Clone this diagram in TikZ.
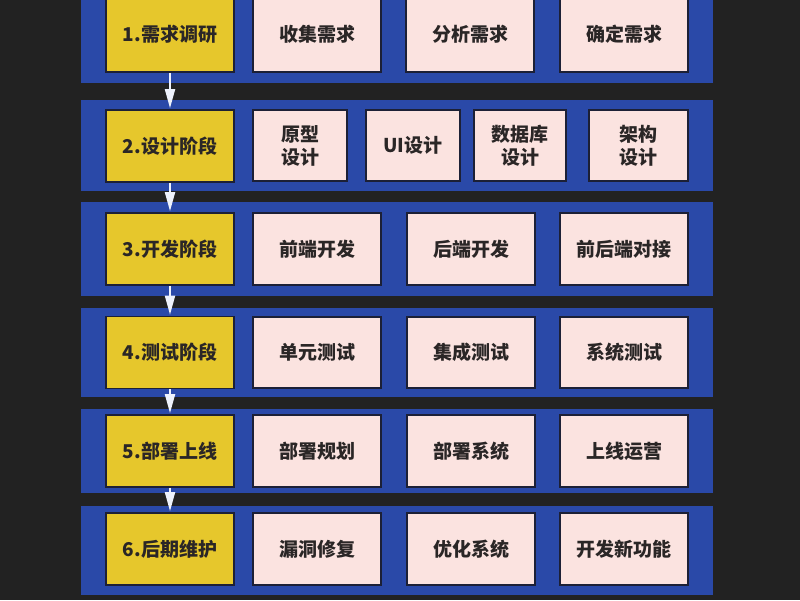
\documentclass[tikz,border=0pt]{standalone}
\usepackage{fontspec}
\setmainfont{Noto Sans CJK SC}
\usetikzlibrary{arrows.meta}
\definecolor{bgc}{HTML}{222222}
\definecolor{bandc}{HTML}{2A49A8}
\definecolor{yelc}{HTML}{E6C72C}
\definecolor{pinkc}{HTML}{FBE3E0}
\definecolor{edgec}{HTML}{1C2036}
\definecolor{txtc}{HTML}{2A2626}
\definecolor{arrc}{HTML}{EEF2FC}
\tikzset{
  band/.style={fill=bandc, draw=none},
  stage/.style={fill=yelc, draw=edgec, line width=1.6pt, minimum width=128pt, minimum height=72pt, inner sep=0pt, text=txtc, font=\fontsize{19}{23}\selectfont\bfseries, align=center},
  task/.style={fill=pinkc, draw=edgec, line width=1.6pt, minimum height=72pt, inner sep=0pt, text=txtc, font=\fontsize{19}{23}\selectfont\bfseries, align=center},
  flow/.style={draw=arrc, line width=1.8pt, -{Triangle[width=10pt,length=19pt]}, shorten >=1pt}
}
\begin{document}
\begin{tikzpicture}[x=1pt,y=-1pt]
\useasboundingbox (0,0) rectangle (800,600);
\clip (0,0) rectangle (800,600);
\fill[bgc] (0,0) rectangle (800,600);
% bands
\fill[band] (81,-10) rectangle (713,83);
\fill[band] (81,100) rectangle (713,191);
\fill[band] (81,202) rectangle (713,296);
\fill[band] (81,308) rectangle (713,397);
\fill[band] (81,409) rectangle (713,493);
\fill[band] (81,506) rectangle (713,595);
% stage boxes
\node[stage, minimum height=76pt] (s1) at (170,34) {1.需求调研};
\node[stage] (s2) at (170,146) {2.设计阶段};
\node[stage] (s3) at (170,249) {3.开发阶段};
\node[stage] (s4) at (170,352.5) {4.测试阶段};
\node[stage] (s5) at (170,451) {5.部署上线};
\node[stage] (s6) at (170,549) {6.后期维护};
% row 1
\node[task, minimum width=128pt, minimum height=76pt] (t11) at (317,34) {收集需求};
\node[task, minimum width=128pt, minimum height=76pt] (t12) at (470,34) {分析需求};
\node[task, minimum width=128pt, minimum height=76pt] (t13) at (624,34) {确定需求};
% row 2
\node[task, minimum width=94pt, minimum height=71pt] (t21) at (300,145.5) {原型\\设计};
\node[task, minimum width=94pt, minimum height=71pt] (t22) at (413,145.5) {UI设计};
\node[task, minimum width=92pt, minimum height=71pt] (t23) at (520,145.5) {数据库\\设计};
\node[task, minimum width=99pt, minimum height=71pt] (t24) at (638.5,145.5) {架构\\设计};
% row 3
\node[task, minimum width=128pt] (t31) at (317,249) {前端开发};
\node[task, minimum width=128pt] (t32) at (471,249) {后端开发};
\node[task, minimum width=128pt] (t33) at (624,249) {前后端对接};
% row 4
\node[task, minimum width=128pt, minimum height=71pt] (t41) at (317,352.5) {单元测试};
\node[task, minimum width=128pt, minimum height=71pt] (t42) at (471,352.5) {集成测试};
\node[task, minimum width=128pt, minimum height=71pt] (t43) at (624,352.5) {系统测试};
% row 5
\node[task, minimum width=128pt] (t51) at (317,451) {部署规划};
\node[task, minimum width=128pt] (t52) at (471,451) {部署系统};
\node[task, minimum width=128pt] (t53) at (624,451) {上线运营};
% row 6
\node[task, minimum width=128pt] (t61) at (317,549) {漏洞修复};
\node[task, minimum width=128pt] (t62) at (471,549) {优化系统};
\node[task, minimum width=128pt] (t63) at (624,549) {开发新功能};
% arrows
\draw[flow] (s1.south) -- (s2.north);
\draw[flow] (s2.south) -- (s3.north);
\draw[flow] (s3.south) -- (s4.north);
\draw[flow] (s4.south) -- (s5.north);
\draw[flow] (s5.south) -- (s6.north);
\end{tikzpicture}
\end{document}
